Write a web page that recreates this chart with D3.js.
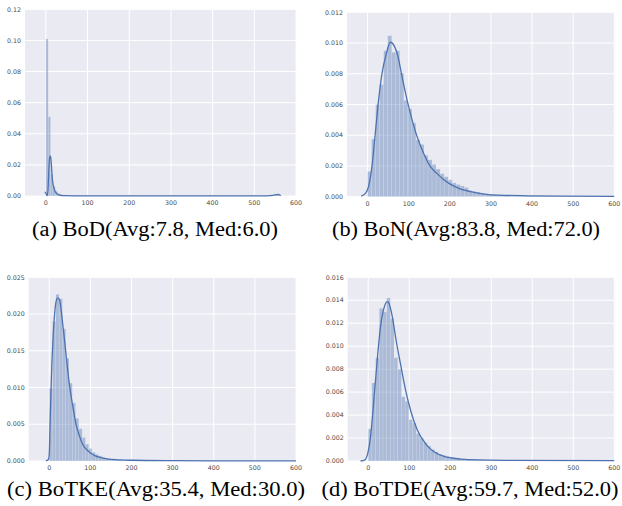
<!DOCTYPE html>
<html>
<head>
<meta charset="utf-8">
<script src="https://cdn.jsdelivr.net/npm/d3@7"></script>
<style>
body { margin: 0; background: #fff; }
.tick-label { font-family: "DejaVu Sans", sans-serif; font-size: 6.3px; fill: #4a4a4a; }
.caption { font-family: "Liberation Serif", serif; font-size: 20px; fill: #000; }
</style>
</head>
<body>
<svg id="chart" width="622" height="506"></svg>
<script>
// shared x ticks
var xTicks = ["0", "100", "200", "300", "400", "500", "600"];

// (a) BoD - histogram heights (bins from 0), kde curve, y tick labels
var bodBinWidth = 5.65;
var bodHist = [
    0.101, 0.051, 0.014, 0.0062, 0.0031, 0.0018, 0.0012, 0.0008, 0.0006, 0.0005,
    0.0004, 0.0004, 0.0003, 0.0003, 0.0003, 0.0002, 0.0002, 0.0002, 0.0002, 0.0002,
    0.0002, 0.0002, 0.0001, 0.0002, 0.0001, 0.0001, 0.0001, 0.0002, 0.0001, 0.0001,
    0.0001, 0.0001, 0.0001, 0.0001, 0.0001, 0.0001, 0.0002, 0.0001, 0.0001, 0.0001,
    0.0001, 0.0001, 0.0001, 0.0001, 0.0001, 0.0001, 0.0001, 0.0001, 0.0001, 0.0001,
    0.0001, 0.0001, 0.0001, 0.0001, 0.0001, 0.0001, 0.0001, 0.0001, 0.0001, 0.0001,
    0.0001, 0.0001, 0.0001, 0.0001, 0.0001, 0.0001, 0.0001, 0.0001, 0.0001, 0.0001,
    0.0001, 0.0001, 0.0001, 0.0001, 0.0001, 0.0001, 0.0001, 0.0001, 0.0001, 0.0001,
    0.0001, 0.0001, 0.0001, 0.0001, 0.0001, 0.0001, 0.0001, 0.0001, 0.0001, 0.0001,
    0.0001, 0.0001, 0.0001, 0.0001, 0.0001, 0.0001, 0.0002, 0.0003, 0.0008, 0.0005
];
var bodKdeX = [-2.4, -1.6, 3.2, 5.6, 7.2, 8.8, 10.4, 12, 13.6, 15.2, 17.6, 20.8, 25.6, 32.8, 44.8, 70, 150, 300, 450, 530, 545, 552, 557, 561, 563];
var bodKdeY = [0.0022, 0.0024, 0.0002, 0.006, 0.0167, 0.0242, 0.0257, 0.0242, 0.0188, 0.0124, 0.0071, 0.0039, 0.0017, 0.0006, 0.0002, 0.0001, 0.00005, 0.00004, 0.00004, 0.0001, 0.0004, 0.0008, 0.0011, 0.0007, 0.0002];
var bodYTicks = ["0.00", "0.02", "0.04", "0.06", "0.08", "0.10", "0.12"];

// (b) BoN
var bonBinWidth = 9.8;
var bonHist = [
    0.00165, 0.00375, 0.0060, 0.0073, 0.0095, 0.01048, 0.0094, 0.0095, 0.00805, 0.00627,
    0.00573, 0.0048, 0.0037, 0.0034, 0.0027, 0.0024, 0.0021, 0.0018, 0.0015, 0.0013,
    0.0011, 0.0009, 0.0008, 0.0007, 0.0006, 0.0004, 0.00035, 0.0003, 0.00025, 0.0002,
    0.00017, 0.00015, 0.00013, 0.00012, 0.0001, 0.0001, 0.00009, 0.00008, 0.00007, 0.00006,
    0.00006, 0.00005, 0.00005, 0.00004, 0.00004, 0.00003, 0.00003, 0.00003, 0.00002, 0.00002
];
var bonKdeX = [-15.5, -5.7, 2.4, 10.6, 18.7, 26.9, 35, 45.6, 55.4, 65.1, 73.3, 83.9, 96, 108.3, 120.5, 136.8, 153, 169.4, 185.7, 202, 226.5, 251, 283.6, 316, 389.8, 471, 600];
var bonKdeY = [0.00004, 0.0002, 0.00065, 0.00195, 0.0041, 0.0063, 0.008, 0.0093, 0.01005, 0.0098, 0.0092, 0.0078, 0.0063, 0.005, 0.0039, 0.0028, 0.00195, 0.0015, 0.0011, 0.0008, 0.0005, 0.00033, 0.00017, 0.0001, 0.00006, 0.00004, 0.00002];
var bonYTicks = ["0.000", "0.002", "0.004", "0.006", "0.008", "0.010", "0.012"];

// (c) BoTKE
var botkeBinWidth = 8;
var botkeHist = [
    0.0099, 0.0190, 0.0227, 0.0221, 0.0180, 0.0140, 0.0106, 0.0079, 0.0058, 0.0044,
    0.0032, 0.0023, 0.0017, 0.0012, 0.0009, 0.0007, 0.0005, 0.0004, 0.0003, 0.0003,
    0.0002, 0.0002, 0.00015, 0.00012, 0.0001, 0.0001, 0.00008, 0.00007, 0.00006, 0.00005,
    0.00005, 0.00004, 0.00004, 0.00003, 0.00003, 0.00003, 0.00002, 0.00002, 0.00002, 0.00002,
    0.00002, 0.00001, 0.00001, 0.00001, 0.00001, 0.00001, 0.00001, 0.00001, 0.00001, 0.00001
];
var botkeKdeX = [-8, -2, 0, 2, 5, 9, 13, 17, 21, 25, 29, 33, 38, 44, 50, 57, 65, 74, 83, 92, 100, 112, 123, 140, 160, 200, 300, 400, 600];
var botkeKdeY = [0.00003, 0.0002, 0.001, 0.005, 0.011, 0.0165, 0.02, 0.0218, 0.0222, 0.0219, 0.0205, 0.0185, 0.016, 0.0128, 0.01, 0.0075, 0.005, 0.0033, 0.0021, 0.0015, 0.0011, 0.0007, 0.0005, 0.0003, 0.00018, 0.0001, 0.00004, 0.00002, 0.00001];
var botkeYTicks = ["0.000", "0.005", "0.010", "0.015", "0.020", "0.025"];

// (d) BoTDE
var botdeBinWidth = 9;
var botdeHist = [
    0.0028, 0.0068, 0.0090, 0.0133, 0.0130, 0.0142, 0.0124, 0.0090, 0.0080, 0.0056,
    0.0052, 0.0036, 0.0033, 0.0024, 0.0020, 0.0016, 0.0013, 0.0010, 0.0008, 0.0006,
    0.0005, 0.0004, 0.0003, 0.00025, 0.0002, 0.00018, 0.00015, 0.00012, 0.0001, 0.0001,
    0.00008, 0.00007, 0.00006, 0.00005, 0.00005, 0.00004, 0.00004, 0.00003, 0.00003, 0.00003,
    0.00002, 0.00002, 0.00002, 0.00002, 0.00002, 0.00001, 0.00001, 0.00001, 0.00001, 0.00001
];
var botdeKdeX = [-18.7, -8, -0.8, 5.7, 13.8, 22, 30, 38.3, 46.5, 51, 58.6, 69, 79, 91, 103.4, 119.7, 140, 160.5, 185, 225.6, 266, 348, 600];
var botdeKdeY = [0, 0.0001, 0.0007, 0.0021, 0.0053, 0.0088, 0.0117, 0.0133, 0.01388, 0.0137, 0.0126, 0.0103, 0.0084, 0.0062, 0.0044, 0.0027, 0.0015, 0.0008, 0.0004, 0.00017, 0.00009, 0.00006, 0.00003];
var botdeYTicks = ["0.000", "0.002", "0.004", "0.006", "0.008", "0.010", "0.012", "0.014", "0.016"];

var captions = [
    "(a) BoD(Avg:7.8, Med:6.0)",
    "(b) BoN(Avg:83.8, Med:72.0)",
    "(c) BoTKE(Avg:35.4, Med:30.0)",
    "(d) BoTDE(Avg:59.7, Med:52.0)"
];


/*
 * DistPlot - histogram + kde panel in seaborn darkgrid style
 */
DistPlot = function(_svg, _box, _hist, _binWidth, _kdeX, _kdeY, _yTicks) {
    this.svg = _svg;
    this.box = _box;
    this.hist = _hist;
    this.binWidth = _binWidth;
    this.kde = _kdeX.map(function(x, i) { return {x: x, y: _kdeY[i]}; });
    this.yTicks = _yTicks;
    this.initVis();
}

DistPlot.prototype.initVis = function() {
    var vis = this;
    var b = vis.box;

    vis.x = d3.scaleLinear().domain([-50, 600]).range([b.left, b.right]);
    vis.y = d3.scaleLinear()
        .domain([0, +vis.yTicks[vis.yTicks.length - 1]])
        .range([b.bottom, b.top]);

    vis.g = vis.svg.append("g");

    vis.g.append("rect")
        .attr("x", b.left).attr("y", b.top)
        .attr("width", b.right - b.left).attr("height", b.bottom - b.top)
        .attr("fill", "#EAEAF2");

    // grid
    vis.g.selectAll(".vgrid").data(xTicks).enter().append("line")
        .attr("x1", function(d) { return vis.x(+d); })
        .attr("x2", function(d) { return vis.x(+d); })
        .attr("y1", b.top).attr("y2", b.bottom)
        .attr("stroke", "#fff").attr("stroke-width", 1);

    vis.g.selectAll(".hgrid").data(vis.yTicks).enter().append("line")
        .attr("y1", function(d) { return vis.y(+d); })
        .attr("y2", function(d) { return vis.y(+d); })
        .attr("x1", b.left).attr("x2", b.right)
        .attr("stroke", "#fff").attr("stroke-width", 1);

    // tick labels
    vis.g.selectAll(".ylab").data(vis.yTicks).enter().append("text")
        .attr("class", "tick-label")
        .attr("x", b.left - 4)
        .attr("y", function(d) { return vis.y(+d); })
        .attr("dy", "0.35em")
        .style("text-anchor", "end")
        .text(function(d) { return d; });

    vis.g.selectAll(".xlab").data(xTicks).enter().append("text")
        .attr("class", "tick-label")
        .attr("x", function(d) { return vis.x(+d); })
        .attr("y", b.bottom + 9)
        .style("text-anchor", "middle")
        .text(function(d) { return d; });

    vis.updateVis();
}

DistPlot.prototype.updateVis = function() {
    var vis = this;

    vis.g.selectAll(".bar").data(vis.hist).enter().append("rect")
        .attr("class", "bar")
        .attr("x", function(d, i) { return vis.x(i * vis.binWidth); })
        .attr("width", function(d, i) { return vis.x((i + 1) * vis.binWidth) - vis.x(i * vis.binWidth); })
        .attr("y", function(d) { return vis.y(d); })
        .attr("height", function(d) { return vis.y(0) - vis.y(d); })
        .attr("fill", "#4C72B0")
        .attr("fill-opacity", 0.4)
        .attr("stroke", "#fff")
        .attr("stroke-opacity", 0.35)
        .attr("stroke-width", 0.4);

    var line = d3.line()
        .x(function(d) { return vis.x(d.x); })
        .y(function(d) { return vis.y(d.y); })
        .curve(d3.curveMonotoneX);

    vis.g.append("path")
        .datum(vis.kde)
        .attr("d", line)
        .attr("fill", "none")
        .attr("stroke", "#4C72B0")
        .attr("stroke-width", 1.3);
}


var svg = d3.select("#chart");

new DistPlot(svg, {left: 25, right: 296, top: 9.3, bottom: 196}, bodHist, bodBinWidth, bodKdeX, bodKdeY, bodYTicks);
new DistPlot(svg, {left: 347, right: 614.3, top: 12.3, bottom: 196.7}, bonHist, bonBinWidth, bonKdeX, bonKdeY, bonYTicks);
new DistPlot(svg, {left: 28.7, right: 296, top: 277.3, bottom: 461}, botkeHist, botkeBinWidth, botkeKdeX, botkeKdeY, botkeYTicks);
new DistPlot(svg, {left: 347.7, right: 614.3, top: 277.3, bottom: 461}, botdeHist, botdeBinWidth, botdeKdeX, botdeKdeY, botdeYTicks);

// sub-captions
var capPos = [
    {x: 155, y: 236, w: 246},
    {x: 466, y: 236, w: 268},
    {x: 156, y: 496, w: 298},
    {x: 470, y: 496, w: 297}
];

svg.selectAll(".caption").data(captions).enter().append("text")
    .attr("class", "caption")
    .attr("x", function(d, i) { return capPos[i].x - capPos[i].w / 2; })
    .attr("y", function(d, i) { return capPos[i].y; })
    .attr("textLength", function(d, i) { return capPos[i].w; })
    .attr("lengthAdjust", "spacingAndGlyphs")
    .text(function(d) { return d; });
</script>
</body>
</html>
